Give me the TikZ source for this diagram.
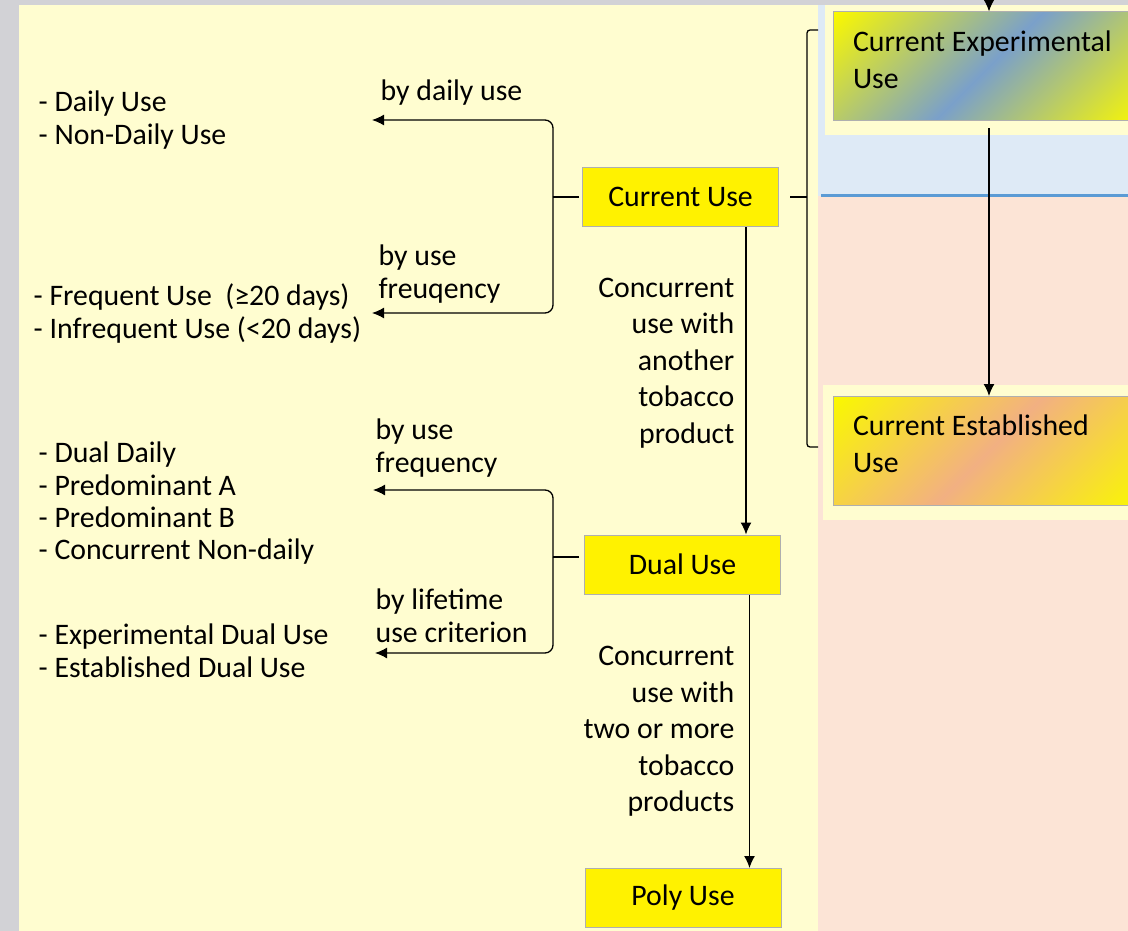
\documentclass[tikz,border=0pt]{standalone}
\usepackage{fontspec}
\setmainfont{Carlito}
\usetikzlibrary{arrows.meta}
\definecolor{pagegray}{RGB}{210,210,214}
\definecolor{paleyellow}{RGB}{255,253,208}
\definecolor{paleblue}{RGB}{222,234,246}
\definecolor{palepink}{RGB}{252,228,214}
\definecolor{lineblue}{RGB}{91,155,213}
\definecolor{steelblue}{RGB}{122,160,202}
\definecolor{salmon}{RGB}{242,176,130}
\definecolor{boxgray}{RGB}{175,175,175}
\definecolor{gradyellow}{RGB}{250,248,0}
\pgfdeclarehorizontalshading{expshade}{100bp}{color(0bp)=(gradyellow); color(15bp)=(gradyellow); color(50bp)=(steelblue); color(85bp)=(gradyellow); color(100bp)=(gradyellow)}
\pgfdeclarehorizontalshading{estshade}{100bp}{color(0bp)=(gradyellow); color(15bp)=(gradyellow); color(50bp)=(salmon); color(85bp)=(gradyellow); color(100bp)=(gradyellow)}

\begin{document}
\begin{tikzpicture}[x=1pt,y=-1pt,>={Latex[length=12pt,width=11pt]},line width=1.3pt,
    every node/.style={font=\fontsize{29.8}{33}\selectfont},
    usebox/.style={draw=boxgray,line width=1pt,fill=yellow,minimum width=196,minimum height=59,inner sep=0},
    gradbox/.style={draw=boxgray,line width=1pt,shading angle=-45,minimum width=312,minimum height=109,text width=272,align=flush left,inner sep=0,font=\fontsize{29.8}{37}\selectfont},
    txt/.style={anchor=west,align=left,inner sep=0},
    rtxt/.style={anchor=east,align=right,inner sep=0,font=\fontsize{29.8}{36.5}\selectfont}]
\useasboundingbox (0,0) rectangle (1128,931);
\fill[pagegray] (0,0) rectangle (1128,931);
\fill[paleyellow] (19,5) rectangle (818,931);
\fill[paleblue] (818,5) rectangle (1128,196);
\fill[palepink] (818,196) rectangle (1128,931);
\draw[lineblue,line width=3] (821,196) -- (1128,196);
\fill[paleyellow] (825,5) rectangle (1140,135);
\fill[paleyellow] (823,385) rectangle (1140,520);

\node[gradbox,shading=expshade] (exp) at (989,66.5) {Current Experimental\\Use\rule[-14pt]{0pt}{0pt}};
\node[gradbox,shading=estshade] (est) at (989,451) {Current Established\\Use\rule[-14pt]{0pt}{0pt}};
\coordinate (top) at (989,-5);
\draw[->] (top) -- (exp.north);
\draw[->] ([yshift=-7]exp.south) -- (est.north);

\foreach \n/\t/\x/\y in {cu/Current Use/680.5/197, du/Dual Use/682.5/564.5, pu/Poly Use/683/898}
    \node[usebox] (\n) at (\x,\y) {\t};
\draw[->] ([xshift=65.5]cu.south) -- ([xshift=65.5]cu.south |- du.north);
\draw[->] ([xshift=67]du.south) -- ([xshift=67]du.south |- pu.north);

\draw[rounded corners=3] (818,30) -- (807,30) -- (807,447) -- (818,447);
\coordinate (brk) at (807,197);
\draw[shorten <=11] (cu.east) -- (brk);

\coordinate (cub) at (553,197);
\coordinate (cua) at (372,120);
\coordinate (cuf) at (372,313);
\coordinate (dub) at (553,557);
\coordinate (dua) at (373,490);
\coordinate (dul) at (375,653);
\draw[shorten <=3] (cu.west) -- (cub);
\draw[shorten <=5] (du.west |- dub) -- (dub);
\foreach \a/\b in {cub/cua, cub/cuf, dub/dua, dub/dul}
    \draw[->,rounded corners=8] (\a) |- (\b);

\node[txt] (dlist) at (38,120) {- Daily Use\\- Non-Daily Use};
\node[txt] (bydaily) at (380,93) {by daily use};
\node[txt] (byfreq) at (378,274.5) {by use\\freuqency};
\node[txt] (flist) at (33,313.5) {- Frequent Use~ (≥20 days)\\- Infrequent Use (<20 days)};
\node[txt,font=\fontsize{29.8}{32.3}\selectfont] (dulist) at (38,503.5) {- Dual Daily\\- Predominant A\\- Predominant B\\- Concurrent Non-daily};
\node[txt] (byfreqb) at (375,448.5) {by use\\frequency};
\node[txt] (bylife) at (375,615.5) {by lifetime\\use criterion};
\node[txt] (elist) at (38,650.5) {- Experimental Dual Use\\- Established Dual Use};
\node[rtxt] (conca) at (735,363) {Concurrent\\use with\\another\\tobacco\\product};
\node[rtxt] (concb) at (735,731.5) {Concurrent\\use with\\two or more\\tobacco\\products};
\end{tikzpicture}
\end{document}
